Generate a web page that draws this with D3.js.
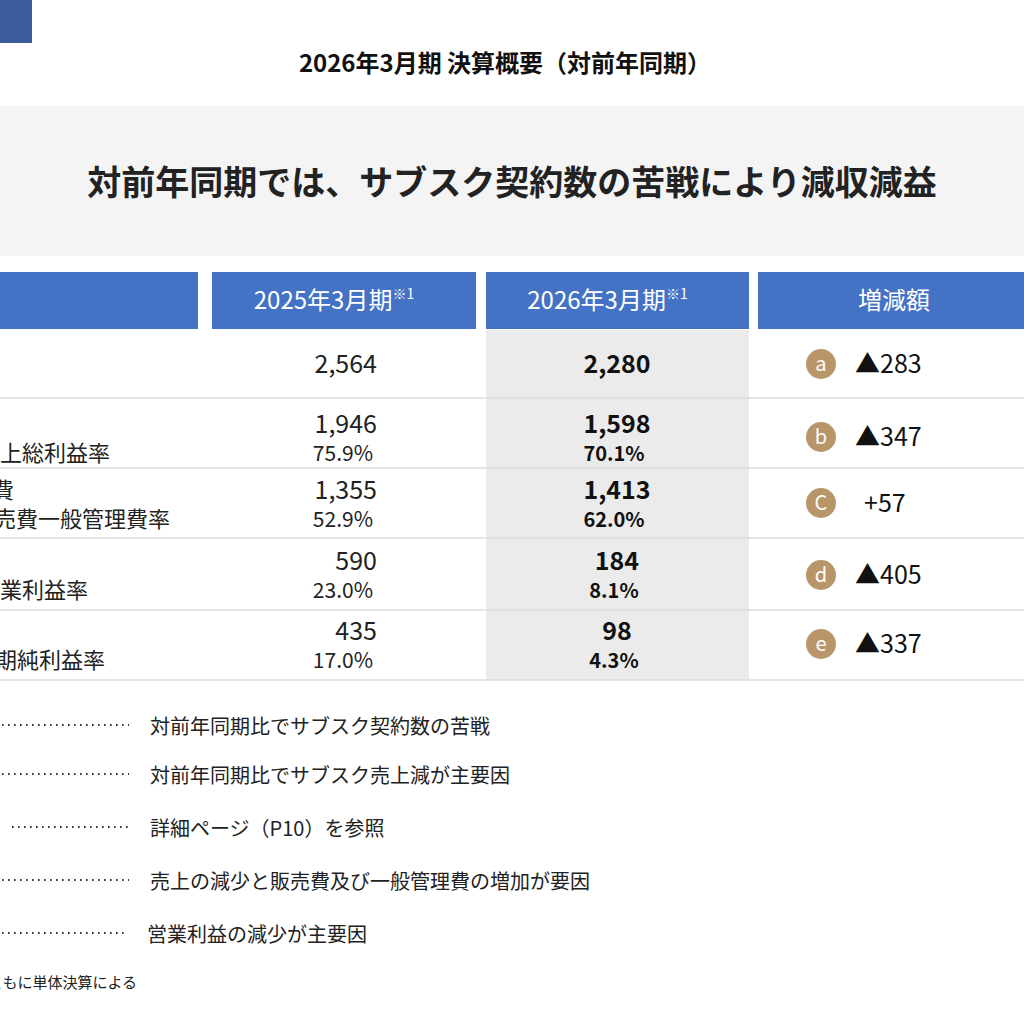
<!DOCTYPE html>
<html><head><meta charset="utf-8">
<script src="https://cdn.jsdelivr.net/npm/d3@7"></script>
<style>body{margin:0;background:#fff}svg{display:block;font-family:"Noto Sans CJK JP","Noto Sans",sans-serif}</style>
</head><body>
<script>
// data
var headers = ['', '2025年3月期', '2026年3月期', '増減額'];
var rowLabels = ['売上高', '売上総利益', '販管費', '営業利益', '当期純利益'];
var rateLabels = ['', '売上総利益率', '販売費一般管理費率', '営業利益率', '当期純利益率'];
var values2025 = [2564, 1946, 1355, 590, 435];
var rates2025 = [null, 75.9, 52.9, 23.0, 17.0];
var values2026 = [2280, 1598, 1413, 184, 98];
var rates2026 = [null, 70.1, 62.0, 8.1, 4.3];
var diffs = [-283, -347, 57, -405, -337];
var letters = ['a', 'b', 'C', 'd', 'e'];
var notes = ['対前年同期比でサブスク契約数の苦戦', '対前年同期比でサブスク売上減が主要因',
  '詳細ページ（P10）を参照', '売上の減少と販売費及び一般管理費の増加が要因', '営業利益の減少が主要因'];

var svg = d3.select('body').append('svg').attr('width', 1024).attr('height', 1024);
var fmt = d3.format(',');

svg.append('rect').attr('x', 0).attr('y', 0).attr('width', 32).attr('height', 43).attr('fill', '#3b5b9c');
svg.append('text').attr('x', 505).attr('y', 72).attr('text-anchor', 'middle')
  .attr('font-size', 24).attr('font-weight', 'bold').attr('fill', '#111').text('2026年3月期 決算概要（対前年同期）');
svg.append('rect').attr('x', 0).attr('y', 106).attr('width', 1024).attr('height', 150).attr('fill', '#f4f4f4');
svg.append('text').attr('x', 512).attr('y', 195).attr('text-anchor', 'middle')
  .attr('font-size', 34).attr('font-weight', 'bold').attr('fill', '#222')
  .text('対前年同期では、サブスク契約数の苦戦により減収減益');

// columns
var colX = [[-20, 198], [212, 476], [486, 749], [758, 1030]];
svg.selectAll('.hd').data(headers).enter().append('rect')
  .attr('x', function(d, i) { return colX[i][0]; }).attr('y', 272)
  .attr('width', function(d, i) { return colX[i][1] - colX[i][0]; }).attr('height', 57)
  .attr('fill', '#4472c4');
svg.selectAll('.ht').data(headers).enter().append('text')
  .attr('x', function(d, i) { return (colX[i][0] + colX[i][1]) / 2 - (i == 1 || i == 2 ? 10 : 0); })
  .attr('y', 309).attr('text-anchor', 'middle').attr('font-size', 24).attr('fill', '#fff')
  .each(function(d, i) {
    d3.select(this).append('tspan').text(d);
    if (i == 1 || i == 2) d3.select(this).append('tspan').attr('font-size', 14).attr('dy', -10).text('※1');
  });

svg.append('rect').attr('x', 486).attr('y', 330).attr('width', 263).attr('height', 350).attr('fill', '#ebebeb');

var rowTop = [330, 398, 468, 538, 610, 680];
var y = d3.scaleOrdinal().domain(d3.range(5)).range([364, 424, 490, 561, 631]);
svg.selectAll('.sep').data(rowTop.slice(1)).enter().append('line')
  .attr('x1', 0).attr('x2', 1024).attr('y1', function(d) { return d; }).attr('y2', function(d) { return d; })
  .attr('stroke', '#dcdcdc').attr('stroke-width', 1.5);

var rows = svg.selectAll('.row').data(d3.range(5)).enter().append('g');
rows.append('text').attr('x', function(i) { return i == 2 ? 14 : -4; }).attr('text-anchor', 'end')
  .attr('y', function(i) { return y(i) + 8; }).attr('font-size', 22).attr('fill', '#222')
  .text(function(i) { return rowLabels[i]; });
rows.append('text').attr('x', function(i) { return [-22, -22, -28, -22, -27][i]; })
  .attr('y', function(i) { return y(i) + 37; }).attr('font-size', 22).attr('fill', '#222')
  .text(function(i) { return rateLabels[i]; });
rows.append('text').attr('x', 377).attr('y', function(i) { return y(i) + 9; }).attr('text-anchor', 'end')
  .attr('font-size', 25).attr('fill', '#222').text(function(i) { return fmt(values2025[i]); });
rows.append('text').attr('x', 373).attr('y', function(i) { return y(i) + 37; }).attr('text-anchor', 'end')
  .attr('font-size', 21).attr('fill', '#222').text(function(i) { return rates2025[i] == null ? '' : rates2025[i].toFixed(1) + '%'; });
rows.append('text').attr('x', 617).attr('y', function(i) { return y(i) + 9; }).attr('text-anchor', 'middle')
  .attr('font-size', 25).attr('font-weight', 'bold').attr('fill', '#111').text(function(i) { return fmt(values2026[i]); });
rows.append('text').attr('x', 614).attr('y', function(i) { return y(i) + 37; }).attr('text-anchor', 'middle')
  .attr('font-size', 20).attr('font-weight', 'bold').attr('fill', '#111').text(function(i) { return rates2026[i] == null ? '' : rates2026[i].toFixed(1) + '%'; });

var dy = [364, 437, 503, 575, 644];
rows.append('circle').attr('cx', 821).attr('cy', function(i) { return dy[i]; }).attr('r', 15).attr('fill', '#b8966a');
rows.append('text').attr('x', 821).attr('y', function(i) { return dy[i] + 7; }).attr('text-anchor', 'middle')
  .attr('font-size', 20).attr('fill', '#fff').text(function(i) { return letters[i]; });
rows.append('text').attr('x', function(i) { return diffs[i] < 0 ? 855 : 864; }).attr('y', function(i) { return dy[i] + 9; })
  .attr('font-size', 25).attr('fill', '#111')
  .text(function(i) { return diffs[i] < 0 ? '▲' + (-diffs[i]) : '+' + diffs[i]; });

// notes
var ny = [727, 776, 829, 882, 935];
var notesG = svg.selectAll('.note').data(notes).enter().append('g');
notesG.append('line').attr('x1', function(d, i) { return i == 2 ? 12 : -10; }).attr('x2', function(d, i) { return i == 4 ? 126 : 129; })
  .attr('y1', function(d, i) { return ny[i] - 2; }).attr('y2', function(d, i) { return ny[i] - 2; })
  .attr('stroke', '#333').attr('stroke-width', 2).attr('stroke-dasharray', '1.6,4.4');
notesG.append('text').attr('x', function(d, i) { return i == 4 ? 147 : 150; }).attr('y', function(d, i) { return ny[i] + 7; })
  .attr('font-size', 20).attr('fill', '#222').text(function(d) { return d; });
svg.append('text').attr('x', 137).attr('y', 988).attr('text-anchor', 'end').attr('font-size', 15).attr('fill', '#222')
  .text('※1 両期ともに単体決算による');
</script>
</body></html>
